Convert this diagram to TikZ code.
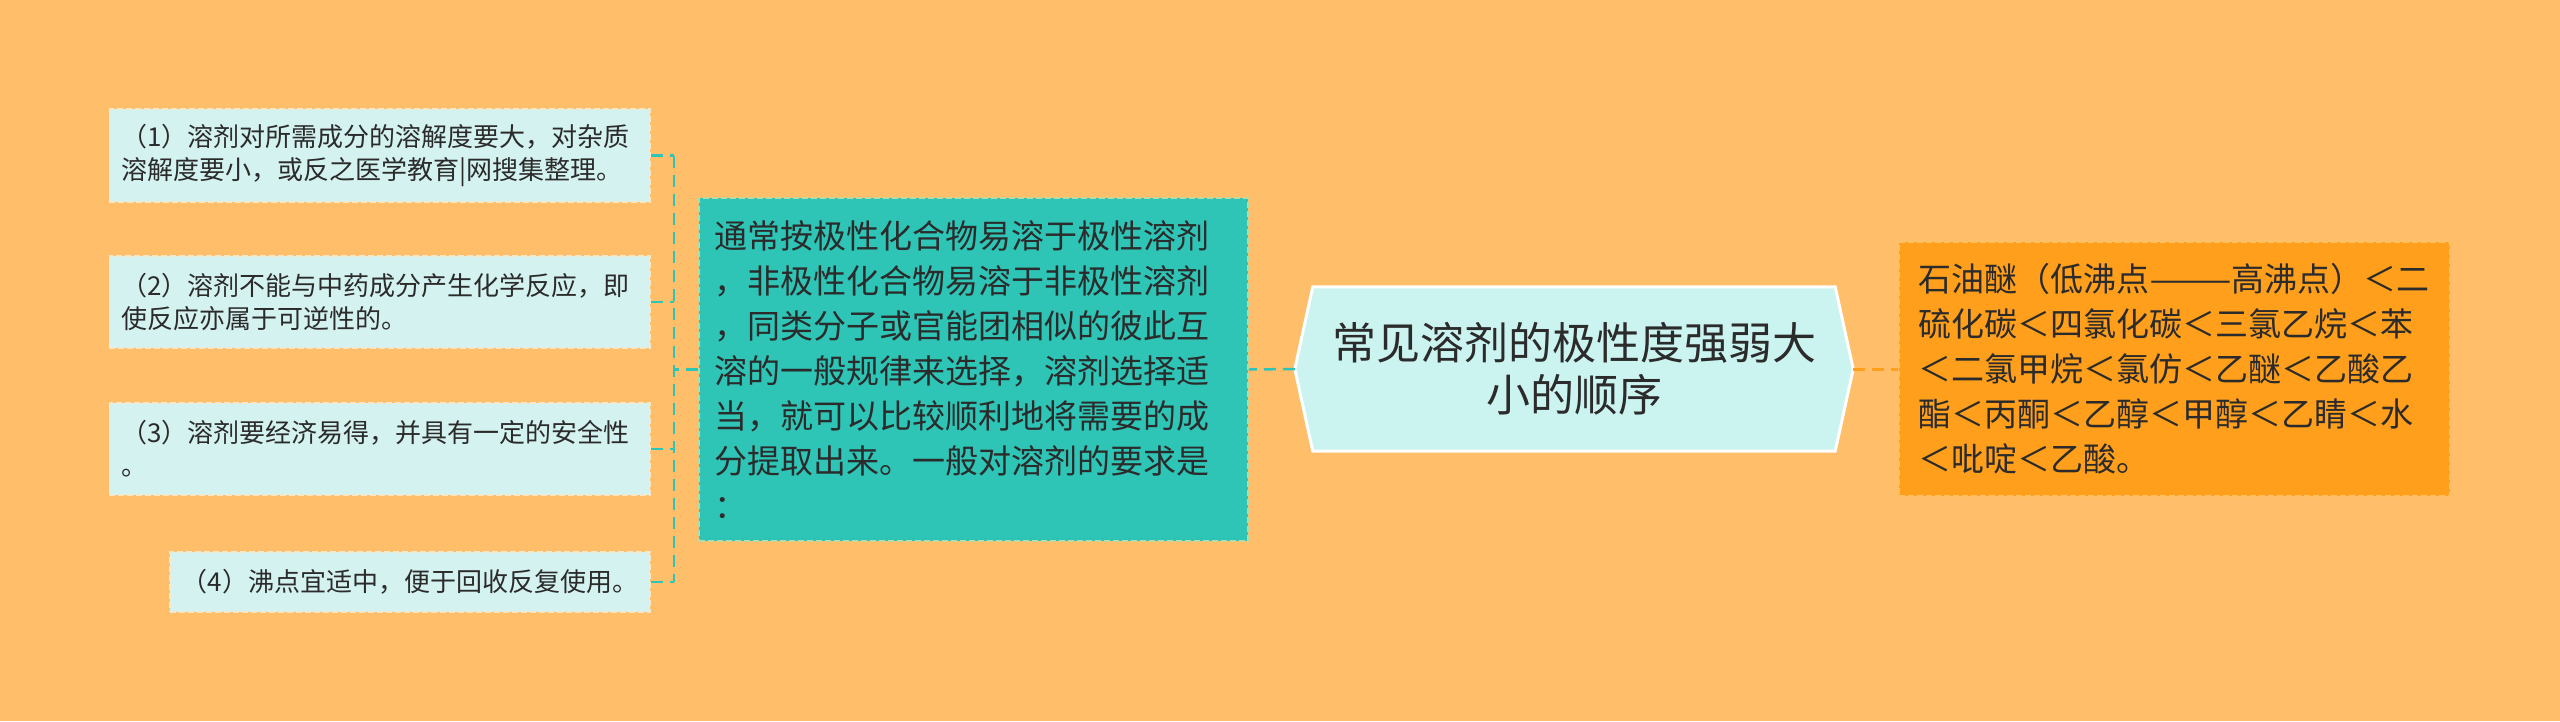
\documentclass[tikz,border=0pt]{standalone}
\usepackage{fontspec}
\usepackage{graphicx}
\newfontfamily\cjk{Noto Sans CJK SC}
\definecolor{bg}{HTML}{FFBE69}
\definecolor{leaffill}{HTML}{D4F2EF}
\definecolor{leafborder}{HTML}{F6E7C9}
\definecolor{teal}{HTML}{2EC4B6}
\definecolor{tealborder}{HTML}{B9D9A6}
\definecolor{hexfill}{HTML}{CBF3F0}
\definecolor{orng}{HTML}{FF9F1C}
\definecolor{orngborder}{HTML}{FFC064}
\definecolor{txt}{HTML}{2B2B2B}
\tikzset{
  leaf/.style={draw=leafborder, dash pattern=on 6pt off 3pt, line width=1.5pt, fill=leaffill,
    font=\cjk\fontsize{26}{33}\selectfont, align=left, inner xsep=12pt, inner ysep=0pt,
    anchor=east, text=txt},
  midbox/.style={draw=tealborder, dash pattern=on 6pt off 3pt, line width=1.5pt, fill=teal,
    font=\cjk\fontsize{33}{45}\selectfont, align=left, inner xsep=15pt, inner ysep=0pt, text=txt},
  rbox/.style={draw=orngborder, dash pattern=on 6pt off 3pt, line width=1.5pt, fill=orng,
    font=\cjk\fontsize{33}{45}\selectfont, align=left, inner xsep=19pt, inner ysep=0pt, text=txt},
  hexshape/.style={draw=white, line width=3pt, fill=hexfill},
  titletext/.style={font=\cjk\fontsize{44}{52}\selectfont, align=center, text=txt},
  tconn/.style={draw=teal, line width=2.5pt, dash pattern=on 12pt off 7pt},
  oconn/.style={draw=orng, line width=3pt, dash pattern=on 12pt off 7pt}
}
\begin{document}
\begin{tikzpicture}[x=1pt,y=-1pt]
\fill[bg] (0,0) rectangle (2560,721);
\useasboundingbox (0,0) rectangle (2560,721);

% leaves
\node[leaf, text width=517pt, minimum height=93pt] (l1) at (651,155.5)
  {（1）溶剂对所需成分的溶解度要大，对杂质\\溶解度要小，或反之医学教育|网搜集整理。};
\node[leaf, text width=517pt, minimum height=92pt] (l2) at (651,302)
  {（2）溶剂不能与中药成分产生化学反应，即\\使反应亦属于可逆性的。};
\node[leaf, text width=517pt, minimum height=92pt] (l3) at (651,449)
  {（3）溶剂要经济易得，并具有一定的安全性\\。};
\node[leaf, minimum height=60pt] (l4) at (651,582)
  {（4）沸点宜适中，便于回收反复使用。};

% middle
\node[midbox, text width=519pt, minimum height=343pt] (m) at (973.5,369.5)
  {通常按极性化合物易溶于极性溶剂\\，非极性化合物易溶于非极性溶剂\\，同类分子或官能团相似的彼此互\\溶的一般规律来选择，溶剂选择适\\当，就可以比较顺利地将需要的成\\分提取出来。一般对溶剂的要求是\\：};

% title hexagon
\node[minimum width=558pt, minimum height=164pt, inner sep=0pt] (hex) at (1574,369) {};
\draw[hexshape] (hex.west) -- ([xshift=18pt]hex.north west) -- ([xshift=-18pt]hex.north east)
  -- (hex.east) -- ([xshift=-18pt]hex.south east) -- ([xshift=18pt]hex.south west) -- cycle;
\node[titletext] (title) at (hex.center) {常见溶剂的极性度强弱大\\小的顺序};

% right
\node[rbox, text width=513pt, minimum height=254pt] (r) at (2174.5,369)
  {石油醚（低沸点\scalebox{1.5}[1]{——}高沸点）＜二\\硫化碳＜四氯化碳＜三氯乙烷＜苯\\＜二氯甲烷＜氯仿＜乙醚＜乙酸乙\\酯＜丙酮＜乙醇＜甲醇＜乙睛＜水\\＜吡啶＜乙酸。};

% connectors
\coordinate (vt) at (674,155.5);
\coordinate (vb) at (674,582);
\coordinate (vm) at (674,369.5);
\draw[tconn] (hex.west) -- (m.east);
\draw[tconn] (m.west) -- (vm);
\draw[tconn] (vt) -- (vb);
\draw[tconn] (l1.east) -- (l1.east -| vm);
\draw[tconn] (l2.east) -- (l2.east -| vm);
\draw[tconn] (l3.east) -- (l3.east -| vm);
\draw[tconn] (l4.east) -- (l4.east -| vm);
\draw[oconn] (hex.east) -- (r.west);
\end{tikzpicture}
\end{document}
